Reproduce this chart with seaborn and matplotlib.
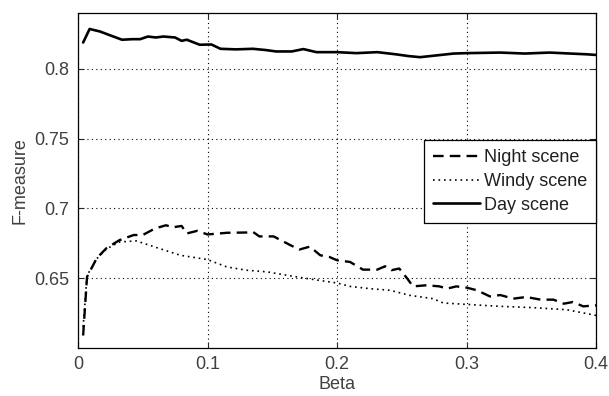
import matplotlib
matplotlib.use('Agg')
import matplotlib.pyplot as plt
import seaborn as sns

# values
beta_day = [0.004, 0.009, 0.017, 0.025, 0.034, 0.042, 0.048, 0.054, 0.060, 0.066,
            0.075, 0.080, 0.084, 0.094, 0.103, 0.110, 0.122, 0.135, 0.145, 0.153,
            0.165, 0.174, 0.184, 0.200, 0.215, 0.231, 0.245, 0.255, 0.264, 0.275,
            0.290, 0.300, 0.326, 0.345, 0.364, 0.380, 0.392, 0.400]
f_day = [0.8189, 0.8286, 0.8268, 0.8240, 0.8209, 0.8213, 0.8213, 0.8232, 0.8225, 0.8232,
         0.8225, 0.8201, 0.8209, 0.8173, 0.8175, 0.8144, 0.8140, 0.8144, 0.8135, 0.8125,
         0.8125, 0.8142, 0.8120, 0.8120, 0.8113, 0.8120, 0.8105, 0.8092, 0.8084, 0.8095,
         0.8110, 0.8113, 0.8117, 0.8110, 0.8117, 0.8110, 0.8105, 0.8100]

beta_night = [0.004, 0.007, 0.0145, 0.022, 0.032, 0.043, 0.050, 0.0595, 0.068, 0.073,
              0.080, 0.084, 0.092, 0.100, 0.115, 0.130, 0.135, 0.140, 0.151, 0.164,
              0.171, 0.179, 0.187, 0.194, 0.200, 0.210, 0.220, 0.231, 0.237, 0.242,
              0.248, 0.254, 0.2586, 0.269, 0.279, 0.285, 0.292, 0.300, 0.308, 0.318,
              0.326, 0.336, 0.346, 0.357, 0.367, 0.375, 0.382, 0.390, 0.400]
f_night = [0.609, 0.651, 0.6644, 0.6716, 0.6773, 0.681, 0.681, 0.6857, 0.688, 0.6865,
           0.6875, 0.6821, 0.684, 0.6814, 0.6826, 0.6828, 0.6833, 0.680, 0.680, 0.6737,
           0.6706, 0.6727, 0.6665, 0.6653, 0.6629, 0.6617, 0.6562, 0.6562, 0.6586, 0.6558,
           0.657, 0.650, 0.6442, 0.645, 0.6442, 0.6426, 0.6442, 0.6433, 0.6414, 0.637,
           0.638, 0.6354, 0.6366, 0.6347, 0.6347, 0.6318, 0.633, 0.6299, 0.6306]

beta_windy = [0.004, 0.007, 0.0145, 0.022, 0.032, 0.045, 0.063, 0.079, 0.100, 0.115,
              0.130, 0.146, 0.161, 0.177, 0.200, 0.210, 0.225, 0.241, 0.256, 0.274,
              0.282, 0.300, 0.326, 0.351, 0.377, 0.400]
f_windy = [0.615, 0.652, 0.664, 0.671, 0.676, 0.6768, 0.6713, 0.6665, 0.6634, 0.6581,
           0.6558, 0.6546, 0.6522, 0.6498, 0.6466, 0.6442, 0.6426, 0.6414, 0.6378, 0.6354,
           0.6323, 0.6313, 0.6299, 0.629, 0.6275, 0.6234]

sns.set_style('ticks')
plt.rcParams['font.family'] = ['Liberation Sans', 'DejaVu Sans']

fig = plt.figure(figsize=(6.09, 3.96), dpi=100)
ax = fig.add_axes([0.128, 0.121, 0.851, 0.846])

sns.lineplot(x=beta_night, y=f_night, color='k', lw=1.7,
             linestyle=(0, (4.5, 2.6)), label='Night scene', ax=ax)
sns.lineplot(x=beta_windy, y=f_windy, color='k', lw=1.2,
             linestyle=(0, (1, 2.3)), label='Windy scene', ax=ax)
sns.lineplot(x=beta_day, y=f_day, color='k', lw=1.9,
             label='Day scene', ax=ax)

ax.set_xlim(0, 0.4)
ax.set_ylim(0.6, 0.84)
ax.set_xticks([0, 0.1, 0.2, 0.3, 0.4])
ax.set_xticklabels(['0', '0.1', '0.2', '0.3', '0.4'])
ax.set_yticks([0.65, 0.7, 0.75, 0.8])
ax.set_yticklabels(['0.65', '0.7', '0.75', '0.8'])

ax.grid(True, color='k', linestyle=(0, (1, 3)), lw=0.8)
ax.tick_params(direction='in', top=True, right=True, length=4, width=0.8,
               labelsize=13, labelcolor='#404040', pad=6)
for s in ax.spines.values():
    s.set_color('k')
    s.set_linewidth(0.9)

ax.set_xlabel('Beta', fontsize=13, color='#404040', labelpad=2)
ax.set_ylabel('F-measure', fontsize=13, color='#404040', labelpad=4)

leg = ax.legend(loc='upper right', bbox_to_anchor=(1.0, 0.621), borderaxespad=0,
                fontsize=13, frameon=True, fancybox=False, framealpha=1,
                handlelength=2.6, handletextpad=0.2, borderpad=0.5,
                labelspacing=0.38)
leg.get_frame().set_edgecolor('k')
leg.get_frame().set_linewidth(0.9)
for t in leg.get_texts():
    t.set_color('#202020')

fig.savefig('out.png', dpi=100)
